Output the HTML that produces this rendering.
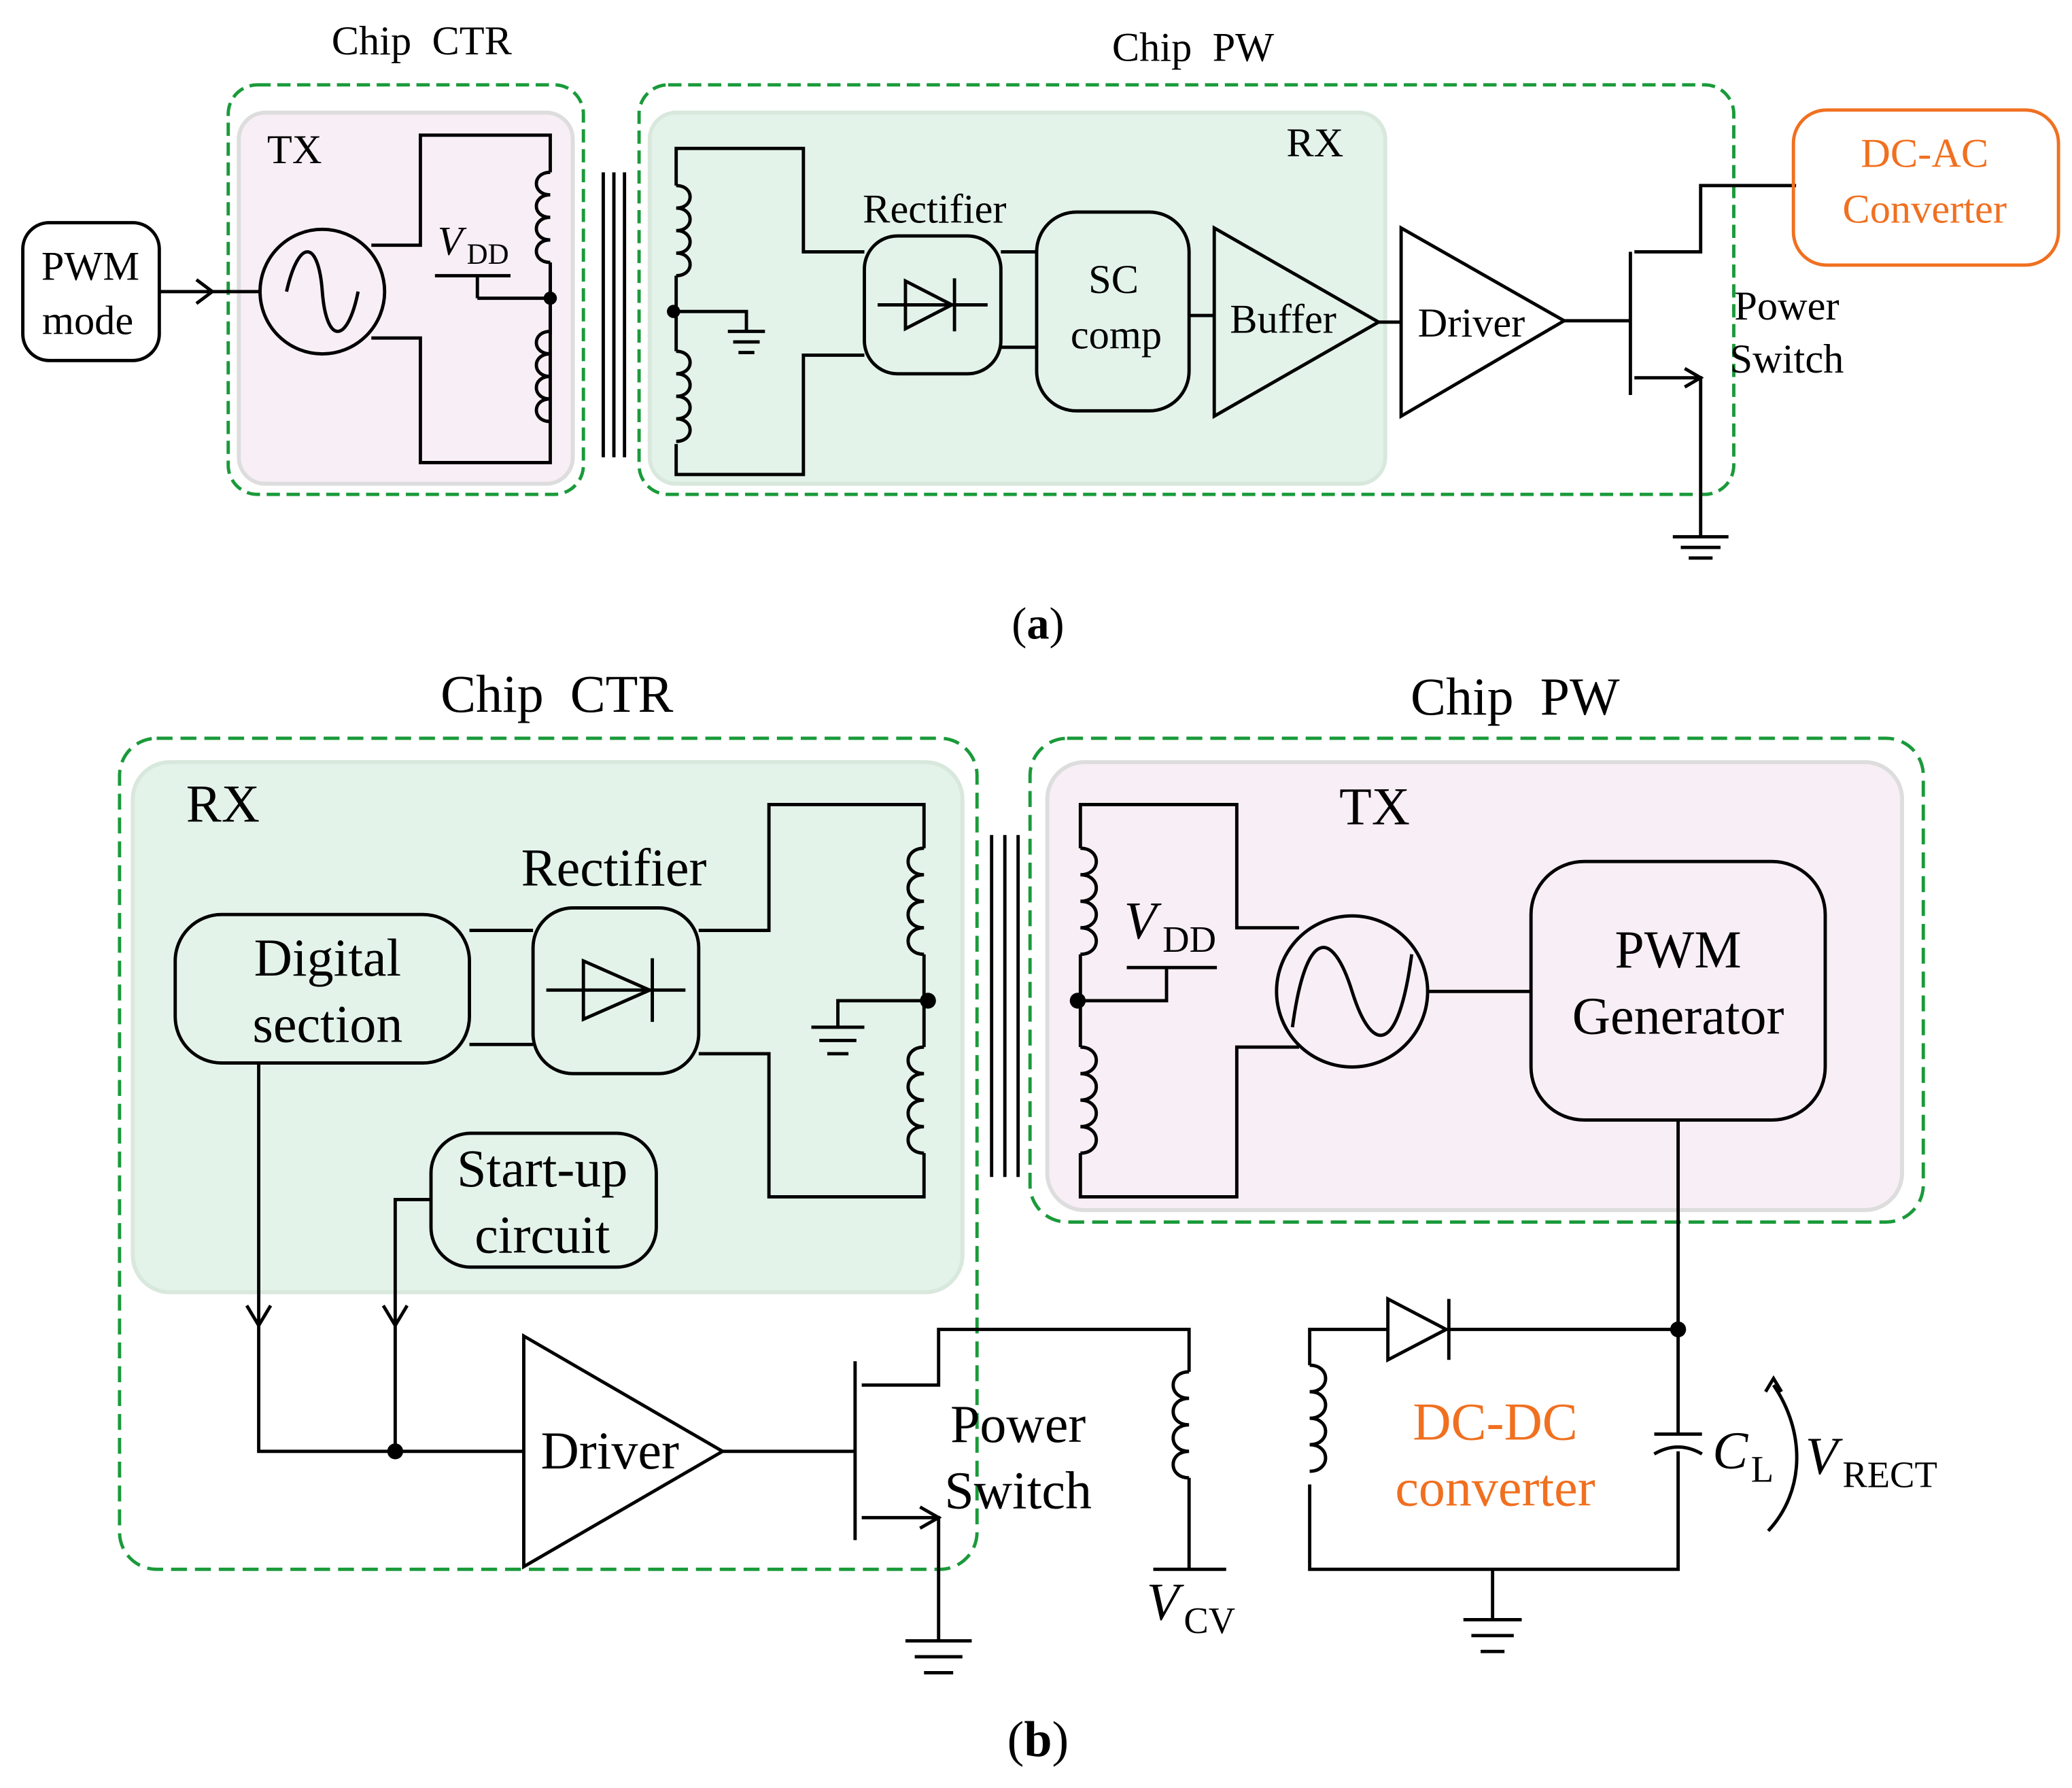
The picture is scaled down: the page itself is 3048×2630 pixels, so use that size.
<!DOCTYPE html>
<html><head><meta charset="utf-8"><style>
html,body{margin:0;padding:0;background:#fff;}
svg{display:block;}
text{font-family:"Liberation Serif",serif;fill:#000;}
</style></head><body>
<svg width="3048" height="2630" viewBox="0 0 1563 1349" xmlns="http://www.w3.org/2000/svg">
<g stroke="#000" stroke-width="2.5" fill="none">
<!-- (a) -->
<rect x="180" y="85" width="252" height="280" rx="20" fill="#f8eef5" stroke="#ddd" stroke-width="3"/>
<rect x="172" y="64" width="268" height="309" rx="22" stroke="#1a9a3a" stroke-dasharray="10,5"/>
<rect x="490" y="85" width="555" height="280" rx="20" fill="#e3f3ea" stroke="#d8e8dc" stroke-width="3"/>
<rect x="482" y="64" width="826" height="309" rx="22" stroke="#1a9a3a" stroke-dasharray="10,5"/>
<rect x="17" y="168" width="103" height="104" rx="20"/>
<line x1="120" y1="220" x2="195" y2="220"/>
<path d="M148,211 L160,220 L148,229"/>
<circle cx="243" cy="220" r="47"/>
<path d="M216,220 C225,180 240,180 243,220 C246,260 262,260 270,220"/>
<path d="M280,185 H317 V102 H415 V130 M415,200 V320 M415,320 V349 H317 V255 H280"/>
<path d="M415,130 c-14,0 -14,17 0,17 c-14,0 -14,17 0,17 c-14,0 -14,17 0,17 c-14,0 -14,17 0,17"/>
<path d="M415,250 c-14,0 -14,17 0,17 c-14,0 -14,17 0,17 c-14,0 -14,17 0,17 c-14,0 -14,17 0,17"/>
<path d="M415,198 V252" />
<path d="M360,225 H415 M360,208 V225 M328,208 H385"/>
<line x1="455" y1="130" x2="455" y2="345"/><line x1="463" y1="130" x2="463" y2="345"/><line x1="471" y1="130" x2="471" y2="345"/>
<path d="M510,140 V112 H606 V190 H652 M510,335 V358 H606 V268 H652"/>
<path d="M510,140 c14,0 14,17 0,17 c14,0 14,17 0,17 c14,0 14,17 0,17 c14,0 14,17 0,17"/>
<path d="M510,265 c14,0 14,17 0,17 c14,0 14,17 0,17 c14,0 14,17 0,17 c14,0 14,17 0,17"/>
<path d="M510,208 V265 M510,235 H563 V250 M549,250 H577 M553,258 H573 M557,266 H569"/>
<rect x="652" y="178" width="103" height="104" rx="25"/>
<path d="M662,230 H745 M683,212 V248 L718,230 Z M720,210 V250"/>
<path d="M755,190 H782 M755,262 H782"/>
<rect x="782" y="160" width="115" height="150" rx="30"/>
<path d="M897,238 H916"/>
<path d="M916,172 L916,314 L1040,243 Z"/>
<path d="M1040,243 H1057"/>
<path d="M1057,172 L1057,314 L1180,242 Z"/>
<path d="M1180,242 H1230 M1230,190 V298 M1233,190 H1283 V140 H1355 M1233,285 H1283 V405"/>
<path d="M1271,278 L1283,285 L1271,292"/>
<path d="M1262,405 H1304 M1268,413 H1298 M1274,421 H1292"/>
<rect x="1353" y="83" width="200" height="117" rx="25" stroke="#f07020"/>
<!-- (b) -->
<rect x="100" y="575" width="626" height="400" rx="28" fill="#e3f3ea" stroke="#d8e8dc" stroke-width="3"/>
<rect x="90" y="557" width="647" height="627" rx="28" stroke="#1a9a3a" stroke-dasharray="12,6"/>
<rect x="790" y="575" width="645" height="338" rx="28" fill="#f8eef5" stroke="#ddd" stroke-width="3"/>
<rect x="777" y="557" width="674" height="365" rx="28" stroke="#1a9a3a" stroke-dasharray="12,6"/>
<rect x="132" y="690" width="222" height="112" rx="35"/>
<rect x="402" y="685" width="125" height="125" rx="30"/>
<path d="M412,747 H517 M440,725 V769 L490,747 Z M492,723 V771"/>
<path d="M354,702 H402 M354,788 H402"/>
<path d="M527,702 H580 V607 H697 V640 M697,870 V903 H580 V795 H527"/>
<path d="M697,640 c-16,0 -16,20 0,20 c-16,0 -16,20 0,20 c-16,0 -16,20 0,20 c-16,0 -16,20 0,20"/>
<path d="M697,790 c-16,0 -16,20 0,20 c-16,0 -16,20 0,20 c-16,0 -16,20 0,20 c-16,0 -16,20 0,20"/>
<path d="M697,720 V790 M697,755 H632 V775 M612,775 H652 M618,785 H646 M624,795 H640"/>
<line x1="748" y1="630" x2="748" y2="888"/><line x1="758" y1="630" x2="758" y2="888"/><line x1="768" y1="630" x2="768" y2="888"/>
<rect x="325" y="855" width="170" height="101" rx="30"/>
<path d="M195,802 V1095 H395 M298,1095 V905 H325"/>
<path d="M186,985 L195,1000 L204,985 M289,985 L298,1000 L307,985"/>
<path d="M395,1008 L395,1182 L545,1095 Z"/>
<path d="M545,1095 H645 M645,1027 V1162 M650,1045 H708 V1003 H897 V1035 M897,1115 V1184 M870,1184 H925 M650,1145 H708 V1238"/>
<path d="M694,1137 L708,1145 L694,1153"/>
<path d="M683,1238 H733 M690,1250 H726 M697,1262 H719"/>
<path d="M897,1035 c-16,0 -16,20 0,20 c-16,0 -16,20 0,20 c-16,0 -16,20 0,20 c-16,0 -16,20 0,20"/>
<path d="M815,640 V607 H933 V700 H980 M815,870 V903 H933 V790 H980"/>
<path d="M815,640 c16,0 16,20 0,20 c16,0 16,20 0,20 c16,0 16,20 0,20 c16,0 16,20 0,20"/>
<path d="M815,790 c16,0 16,20 0,20 c16,0 16,20 0,20 c16,0 16,20 0,20 c16,0 16,20 0,20"/>
<path d="M815,720 V790 M815,755 H880 V730 M850,730 H918"/>
<circle cx="1020" cy="748" r="57"/>
<path d="M975,775 C985,700 1005,700 1020,748 C1035,796 1055,796 1065,720"/>
<path d="M1078,748 H1155"/>
<rect x="1155" y="650" width="222" height="195" rx="40"/>
<path d="M1266,845 V1003 H1093 M1047,1003 H988 V1030 M988,1120 V1184 H1266 V1095 M1266,1082 V1003 M1126,1184 V1222"/>
<path d="M1047,980 V1026 L1091,1003 Z M1093,980 V1026"/>
<path d="M988,1030 c16,0 16,20 0,20 c16,0 16,20 0,20 c16,0 16,20 0,20 c16,0 16,20 0,20"/>
<path d="M1248,1082 H1284 M1248,1097 C1260,1090 1272,1090 1284,1097"/>
<path d="M1104,1222 H1148 M1110,1234 H1142 M1117,1246 H1135"/>
<path d="M1338,1045 C1362,1080 1362,1125 1334,1155"/>
<path d="M1332,1050 L1338,1040 L1344,1050"/>
</g>
<circle cx="415" cy="225" r="5"/><circle cx="508" cy="235" r="5"/>
<circle cx="700" cy="755" r="6"/><circle cx="813" cy="755" r="6"/>
<circle cx="298" cy="1095" r="6"/><circle cx="1266" cy="1003" r="6"/>
<g font-size="31" text-anchor="middle">
<text x="318" y="41">Chip&#160;&#160;CTR</text>
<text x="900" y="46">Chip&#160;&#160;PW</text>
<text x="222" y="123">TX</text>
<text x="992" y="118">RX</text>
<text x="68" y="211">PWM</text><text x="66" y="252">mode</text>
<text x="705" y="168">Rectifier</text>
<text x="840" y="221">SC</text><text x="842" y="263">comp</text>
<text x="968" y="251">Buffer</text>
<text x="1110" y="254">Driver</text>
<text x="1348" y="241">Power</text><text x="1348" y="281">Switch</text>
<text x="1452" y="126" style="fill:#f07020">DC-AC</text>
<text x="1452" y="168" style="fill:#f07020">Converter</text>
<text x="783" y="482" font-size="34"><tspan>(</tspan><tspan font-weight="bold">a</tspan><tspan>)</tspan></text>
</g>
<text x="330" y="192" font-size="31" font-style="italic">V</text><text x="352" y="199" font-size="22">DD</text>
<g font-size="40" text-anchor="middle">
<text x="420" y="537">Chip&#160;&#160;CTR</text>
<text x="1143" y="539">Chip&#160;&#160;PW</text>
<text x="168" y="620">RX</text>
<text x="1037" y="622">TX</text>
<text x="463" y="668">Rectifier</text>
<text x="247" y="736">Digital</text><text x="247" y="786">section</text>
<text x="409" y="895">Start-up</text><text x="409" y="945">circuit</text>
<text x="460" y="1108">Driver</text>
<text x="768" y="1088">Power</text><text x="768" y="1138">Switch</text>
<text x="1266" y="730">PWM</text><text x="1266" y="780">Generator</text>
<text x="1128" y="1086" style="fill:#f07020">DC-DC</text>
<text x="1128" y="1136" style="fill:#f07020">converter</text>
<text x="783" y="1325" font-size="38"><tspan>(</tspan><tspan font-weight="bold">b</tspan><tspan>)</tspan></text>
</g>
<text x="848" y="708" font-size="40" font-style="italic">V</text><text x="877" y="718" font-size="28">DD</text>
<text x="865" y="1222" font-size="40" font-style="italic">V</text><text x="893" y="1232" font-size="28">CV</text>
<text x="1292" y="1108" font-size="40" font-style="italic">C</text><text x="1321" y="1118" font-size="28">L</text>
<text x="1362" y="1112" font-size="40" font-style="italic">V</text><text x="1390" y="1122" font-size="28">RECT</text>
</svg>
</body></html>
